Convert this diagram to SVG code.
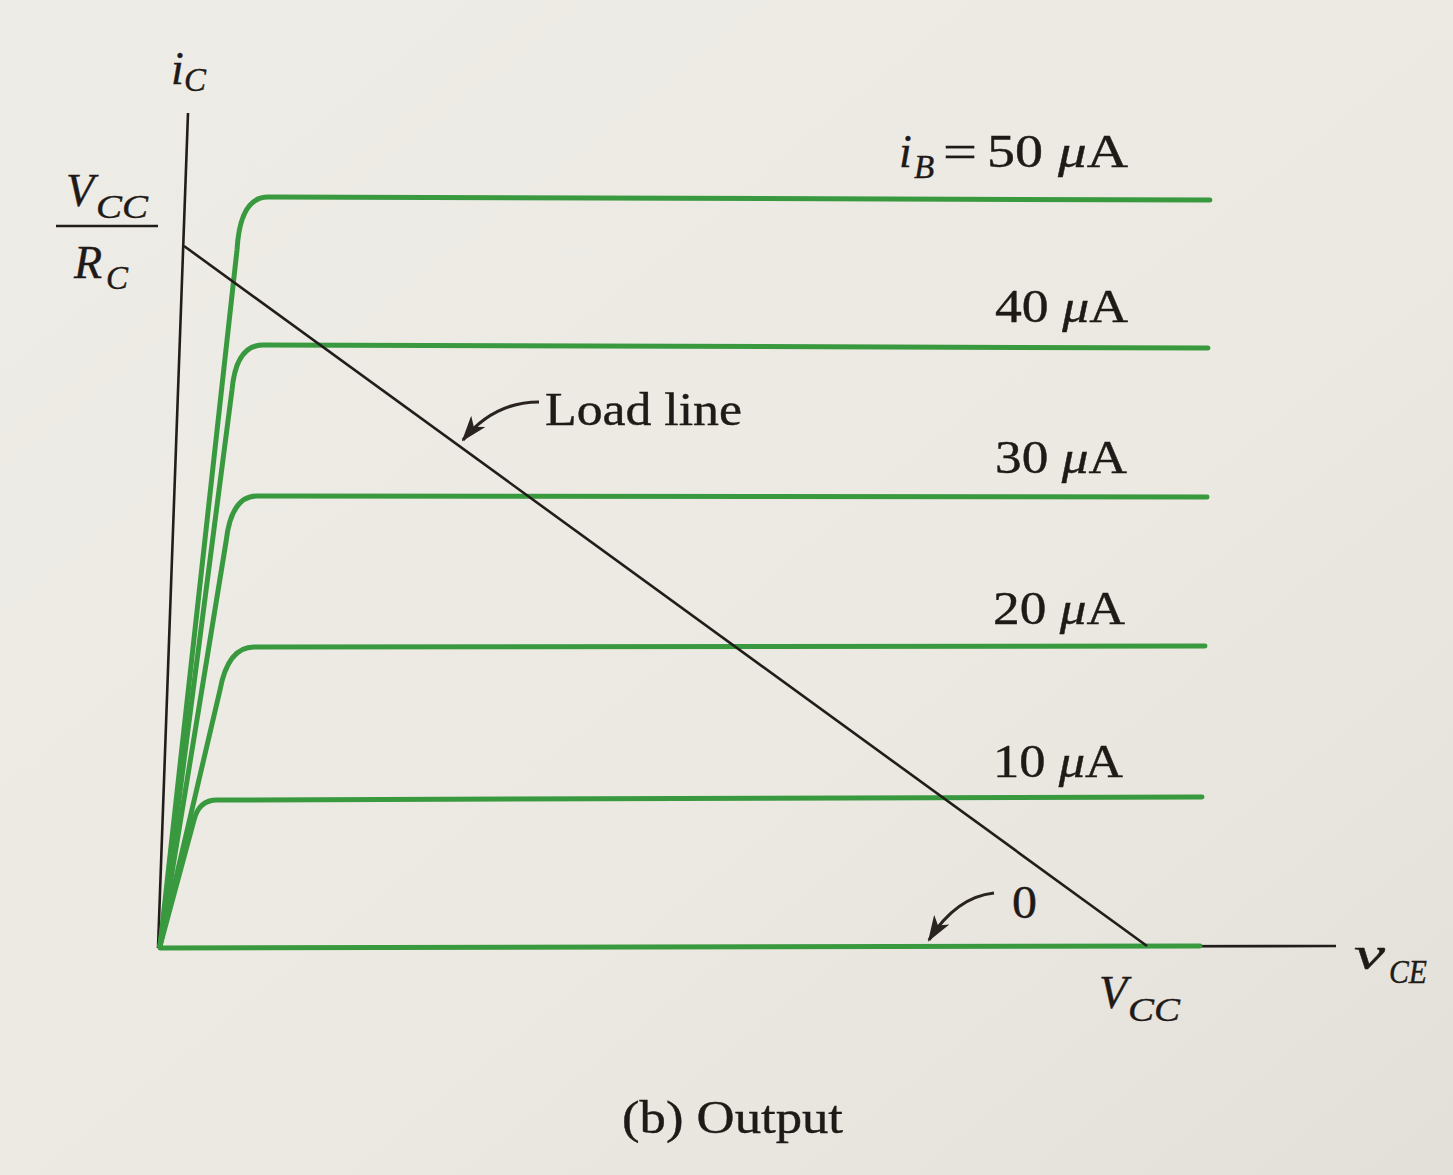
<svg xmlns="http://www.w3.org/2000/svg" width="1453" height="1175" viewBox="0 0 1453 1175">
  <defs>
    <linearGradient id="paper" x1="0" y1="0" x2="1" y2="1">
      <stop offset="0" stop-color="#eeece6"/>
      <stop offset="0.6" stop-color="#ebe9e2"/>
      <stop offset="1" stop-color="#e2e0d8"/>
    </linearGradient>
    <marker id="barb" viewBox="0 0 26 18" refX="24" refY="9" markerWidth="26" markerHeight="18" markerUnits="userSpaceOnUse" orient="auto">
      <path d="M0,0 L26,9 L0,18 L7,9 Z" fill="#2a2320"/>
    </marker>
    <style>
      .ax { stroke:#221d1a; stroke-width:2.6; fill:none; }
      .curve { stroke:#39993f; stroke-width:5; fill:none; stroke-linecap:round; stroke-linejoin:round; }
      .arr { stroke:#2a2320; stroke-width:3.2; fill:none; }
      .t { font-family:"Liberation Serif","Times New Roman",serif; fill:#1f1a17; font-size:46px; stroke:#1f1a17; stroke-width:0.4; }
      .it { font-style:italic; }
      .sub { font-size:33px; font-style:italic; }
    </style>
  </defs>

  <rect width="1453" height="1175" fill="url(#paper)"/>

  <g id="axes">
    <line class="ax" x1="188" y1="113" x2="158" y2="948"/>
    <line class="ax" x1="158" y1="948" x2="1336" y2="946" stroke-width="3"/>
  </g>

  <g id="curves">
    <path id="ib50" class="curve" d="M160,946 L237,250 Q240,197 268,197 L1210,200"/>
    <path id="ib40" class="curve" d="M160,946 L232,390 Q236,345 263,345 L1208,348"/>
    <path id="ib30" class="curve" d="M160,946 L226,542 Q231,496 257,496 L1207,497"/>
    <path id="ib20" class="curve" d="M160,946 L220,690 Q228,647 254,647 L1205,646"/>
    <path id="ib10" class="curve" d="M160,946 L194,820 Q199,800 217,800 L1202,797"/>
    <path id="ib0" class="curve" d="M160,948 L1200,946" stroke="#2f7d36" stroke-width="5.5"/>
  </g>

  <g id="connectors">
    <line id="loadline" class="ax" x1="184" y1="246" x2="1147" y2="946" stroke-width="2.4"/>
    <path id="loadline-arrow" class="arr" d="M539,402 Q494,402 463,440" marker-end="url(#barb)"/>
    <path id="zero-arrow" class="arr" d="M994,893 Q956,897 929,940" marker-end="url(#barb)"/>
  </g>

  <g id="labels">
    <g id="label-ic">
      <text class="t it" x="171" y="84">i</text>
      <text class="t sub" x="184" y="91">C</text>
    </g>
    <g id="label-vccrc">
      <text class="t it" x="66" y="206" font-size="44">V</text>
      <text class="t sub" x="96" y="218" textLength="52" lengthAdjust="spacingAndGlyphs">CC</text>
      <line x1="56" y1="226" x2="158" y2="226" stroke="#221d1a" stroke-width="2.6"/>
      <text class="t it" x="74" y="278" font-size="44">R</text>
      <text class="t sub" x="106" y="289">C</text>
    </g>
    <g id="label-50">
      <text class="t it" x="899" y="167">i</text>
      <text class="t sub" x="914" y="178">B</text>
      <text class="t" x="943" y="167" textLength="34" lengthAdjust="spacingAndGlyphs">=</text>
      <text class="t" x="987" y="167" textLength="56" lengthAdjust="spacingAndGlyphs">50</text>
      <text class="t" x="1058" y="167" textLength="70" lengthAdjust="spacingAndGlyphs"><tspan class="it">μ</tspan>A</text>
    </g>
    <text id="label-40" class="t" x="995" y="322" textLength="133" lengthAdjust="spacingAndGlyphs">40 <tspan class="it">μ</tspan>A</text>
    <text id="label-30" class="t" x="995" y="473" textLength="132" lengthAdjust="spacingAndGlyphs">30 <tspan class="it">μ</tspan>A</text>
    <text id="label-20" class="t" x="993" y="624" textLength="132" lengthAdjust="spacingAndGlyphs">20 <tspan class="it">μ</tspan>A</text>
    <text id="label-10" class="t" x="993" y="777" textLength="130" lengthAdjust="spacingAndGlyphs">10 <tspan class="it">μ</tspan>A</text>
    <text id="label-0" class="t" x="1012" y="918" textLength="25" lengthAdjust="spacingAndGlyphs">0</text>
    <text id="label-loadline" class="t" x="545" y="425" textLength="197" lengthAdjust="spacingAndGlyphs">Load line</text>
    <g id="label-vcc">
      <text class="t it" x="1099" y="1008" font-size="44">V</text>
      <text class="t sub" x="1128" y="1021" textLength="52" lengthAdjust="spacingAndGlyphs">CC</text>
    </g>
    <g id="label-vce">
      <text class="t it" x="1354" y="969" font-size="62" textLength="31" lengthAdjust="spacingAndGlyphs">v</text>
      <text class="t sub" x="1389" y="983" textLength="38" lengthAdjust="spacingAndGlyphs">CE</text>
    </g>
    <text id="caption" class="t" x="622" y="1133" textLength="221" lengthAdjust="spacingAndGlyphs">(b) Output</text>
  </g>
</svg>
